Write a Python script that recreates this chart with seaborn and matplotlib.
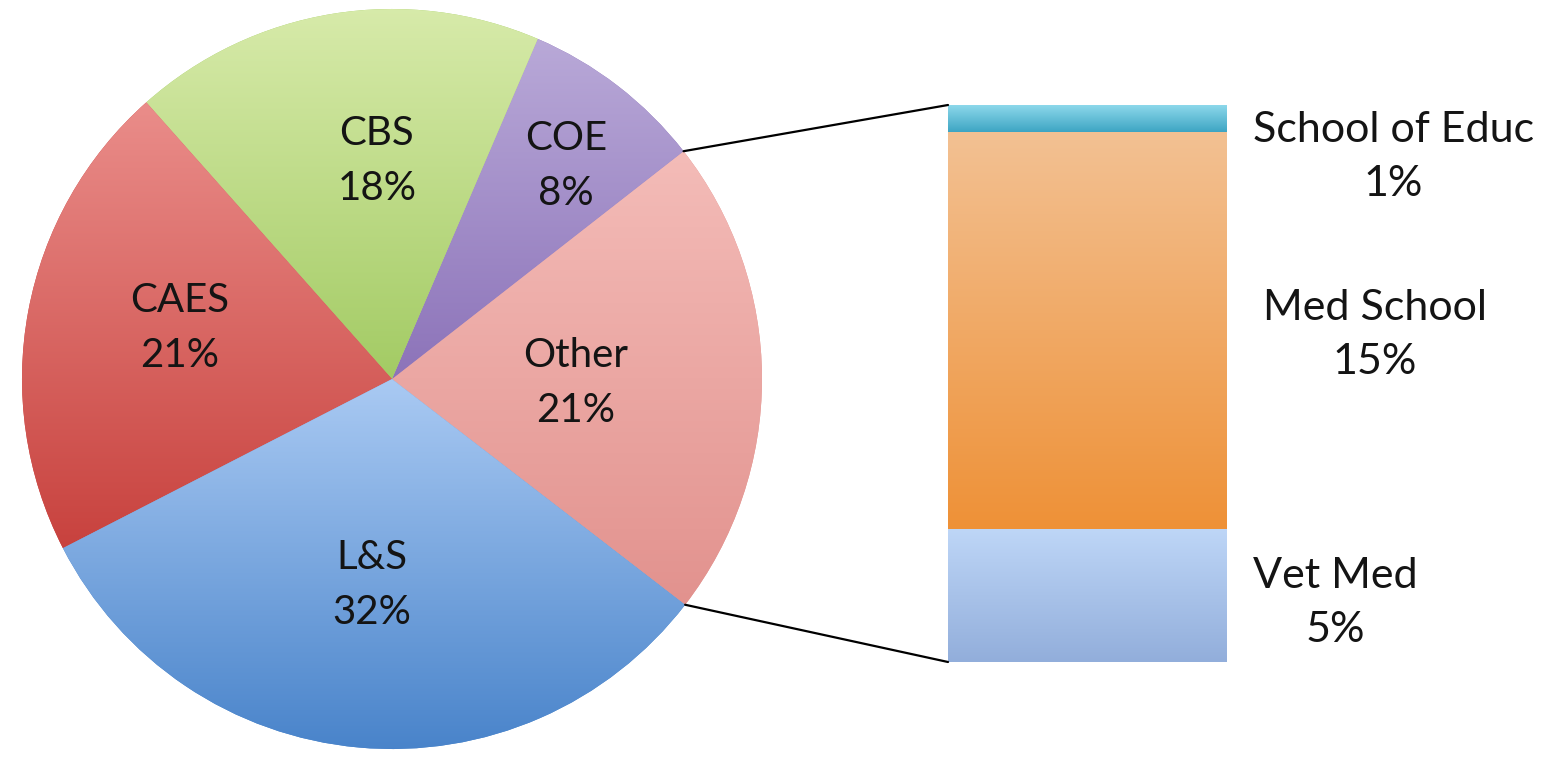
import numpy as np
import matplotlib
matplotlib.use("Agg")
import matplotlib.pyplot as plt
from matplotlib.colors import to_rgb
from matplotlib.patches import ConnectionPatch
import seaborn as sns

# Pie data, counterclockwise starting from "Other"
pie_labels = ["Other", "COE", "CBS", "CAES", "L&S"]
pie_pct = [21, 8, 18, 21, 32]

# Breakdown of "Other", bottom to top
bar_labels = ["Vet Med", "Med School", "School of Educ"]
bar_pct = [5, 15, 1]

# Gradient colours (top, bottom)
pie_top = ["#F4BCB8", "#B9A9D8", "#D8EBAB", "#EA8D8A", "#AACAF3"]
pie_bot = ["#E2928E", "#8C73B9", "#A3CB64", "#C8423E", "#4883CA"]
bar_top = ["#BED6F7", "#F3C193", "#8DD8EB"]
bar_bot = ["#92AEDB", "#EE9137", "#3DA5C3"]

sns.set_theme(style="white")
plt.rcParams["font.family"] = ["Lato", "DejaVu Sans"]

W, H = 1557, 764


def fill_gradient(a, patch, c_top, c_bot):
    verts = patch.get_path().transformed(patch.get_patch_transform()).vertices
    x0, x1 = verts[:, 0].min(), verts[:, 0].max()
    y0, y1 = verts[:, 1].min(), verts[:, 1].max()
    t = np.linspace(0, 1, 256)[:, None]
    img = (1 - t) * np.array(to_rgb(c_top)) + t * np.array(to_rgb(c_bot))
    im = a.imshow(img[:, None, :], extent=(x0, x1, y0, y1), origin="upper",
                  aspect="auto", interpolation="bilinear",
                  zorder=patch.get_zorder() + 0.1)
    im.set_clip_path(patch)


fig = plt.figure(figsize=(W / 100, H / 100), dpi=100)
ax = fig.add_axes([0, 0, 1, 1])

# ---------------- PIE ----------------
cx, cy, r = 392, H - 379, 370
wedges, _ = ax.pie(pie_pct, radius=r, center=(cx, cy), startangle=-37.6,
                   counterclock=True, frame=True,
                   colors=pie_bot, wedgeprops=dict(linewidth=0))
ax.set_xlim(0, W)
ax.set_ylim(0, H)
ax.set_autoscale_on(False)
ax.axis("off")
for w, ct, cb in zip(wedges, pie_top, pie_bot):
    fill_gradient(ax, w, ct, cb)

pie_label_xy = [(576, 383), (566, 166), (377, 161), (180, 328), (372, 585)]
for (x, y), lab, p in zip(pie_label_xy, pie_labels, pie_pct):
    ax.text(x, H - y, f"{lab}\n{p}%", ha="center", va="center",
            fontsize=29, color="#141414", linespacing=1.6, zorder=10)

# ---------------- BAR OF PIE ----------------
ax2 = fig.add_axes([948 / W, (H - 662) / H, 279 / W, 557 / H])
bottoms = np.cumsum([0] + bar_pct[:-1])
bars = ax2.bar([0] * len(bar_pct), bar_pct, width=1, bottom=bottoms,
               color=bar_bot, linewidth=0)
ax2.set_xlim(-0.5, 0.5)
ax2.set_ylim(0, sum(bar_pct))
ax2.set_autoscale_on(False)
ax2.axis("off")
for b, ct, cb in zip(bars, bar_top, bar_bot):
    fill_gradient(ax2, b, ct, cb)

bar_label_xy = [(1253, 603), (1263, 335), (1253, 157)]
for (x, y), lab, p in zip(bar_label_xy, bar_labels, bar_pct):
    ax.text(x, H - y, f"{lab}\n{p}%", ha="left", va="center",
            multialignment="center", fontsize=31, color="#141414",
            linespacing=1.5, zorder=10)

# connector lines from the "Other" slice to the bar
other = wedges[0]
for theta, yb in [(other.theta2, sum(bar_pct)), (other.theta1, 0)]:
    pa = (cx + r * np.cos(np.radians(theta)), cy + r * np.sin(np.radians(theta)))
    con = ConnectionPatch(xyA=pa, coordsA=ax.transData,
                          xyB=(-0.5, yb), coordsB=ax2.transData,
                          color="black", linewidth=1.6)
    fig.add_artist(con)

plt.savefig("out.png", dpi=100)
